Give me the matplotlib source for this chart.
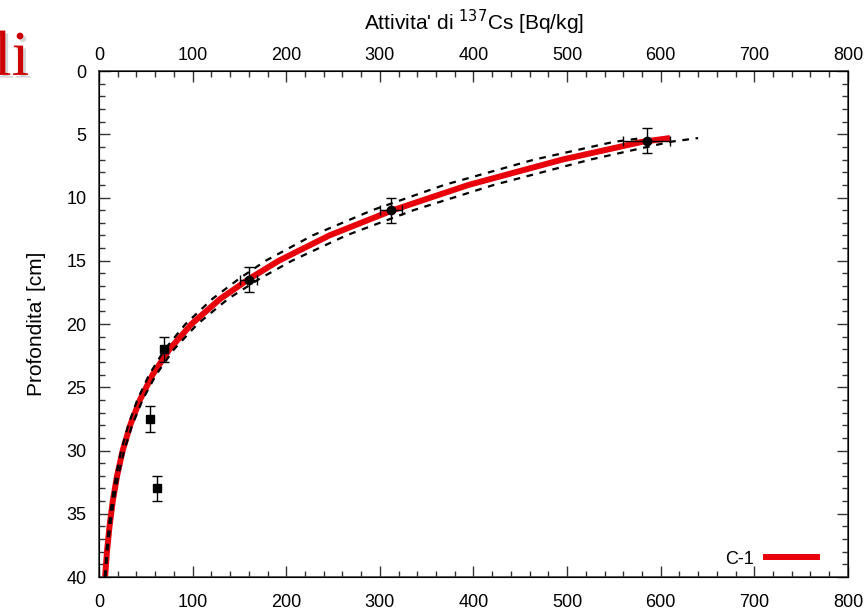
import matplotlib
matplotlib.use("Agg")
import matplotlib.pyplot as plt
import matplotlib.patheffects as pe
from matplotlib.ticker import MultipleLocator

plt.rcParams['font.family'] = ['Liberation Sans', 'DejaVu Sans']

# measured points: activity [Bq/kg] vs depth [cm]
circ_x = [585, 312, 160]
circ_y = [5.5, 11.0, 16.5]
circ_xerr = [25, 12, 9]
circ_yerr = [1.0, 1.0, 1.0]

sq_x = [69, 55, 62]
sq_y = [22.0, 27.5, 33.0]
sq_yerr = [1.0, 1.0, 1.0]

# fit curve C-1 and its band
fit_d = [40, 38, 36, 34, 32, 30, 28, 26, 24, 22, 20, 18, 16.4, 15, 13, 11, 9, 7, 5.6, 5.3]
fit_a = [6.5, 8.5, 11.2, 14.7, 19.3, 25.3, 33.3, 43.7, 57.3, 75.2, 98.8, 129.7,
         161, 192, 246, 314, 395, 495, 580, 610]
band_lo = [6.2, 8.0, 10.5, 13.8, 18.1, 23.7, 31.2, 40.9, 53.6, 70.3, 92.4, 121.3,
           150, 178, 228, 292, 369, 465, 550, 580]
band_hi = [6.8, 9.0, 11.9, 15.6, 20.5, 26.9, 35.4, 46.5, 61.0, 80.1, 105.2, 138.1,
           172, 206, 264, 336, 422, 525, 610, 640]

fig = plt.figure(figsize=(8.67, 6.09), dpi=100)
ax = fig.add_axes([0.1142, 0.0525, 0.978 - 0.1142, 0.8834 - 0.0525])

ax.plot(fit_a, fit_d, color='#e8000b', lw=4.3, solid_capstyle='butt',
        solid_joinstyle='round', zorder=2, label='C-1')
ax.plot(band_lo, fit_d, color='black', lw=1.6, ls=(0, (3, 3)), zorder=3)
ax.plot(band_hi, fit_d, color='black', lw=1.6, ls=(0, (3, 3)), zorder=3)

ax.errorbar(circ_x, circ_y, xerr=circ_xerr, yerr=circ_yerr, fmt='o', color='black',
            ms=6, elinewidth=1, capsize=3.5, capthick=1, zorder=4)
ax.errorbar(sq_x, sq_y, yerr=sq_yerr, fmt='s', color='black',
            ms=5.5, elinewidth=1, capsize=3.5, capthick=1, zorder=4)

ax.set_xlim(0, 800)
ax.set_ylim(40, 0)
ax.xaxis.set_major_locator(MultipleLocator(100))
ax.xaxis.set_minor_locator(MultipleLocator(20))
ax.yaxis.set_major_locator(MultipleLocator(5))
ax.yaxis.set_minor_locator(MultipleLocator(1))
ax.tick_params(which='both', direction='in', top=True, right=True,
               labelsize=13, color='#333333')
ax.tick_params(which='major', length=8, width=1)
ax.tick_params(which='minor', length=4, width=1)
ax.tick_params(axis='x', pad=12)
ax.tick_params(axis='y', pad=9)
for s in ax.spines.values():
    s.set_color('#333333')
    s.set_linewidth(1.1)

# top axis carries the same scale with its own labels
top = ax.twiny()
top.set_xlim(0, 800)
top.xaxis.set_major_locator(MultipleLocator(100))
top.xaxis.set_minor_locator(MultipleLocator(20))
top.tick_params(which='both', direction='in', labelsize=13, color='#333333', pad=5)
top.tick_params(which='major', length=8, width=1)
top.tick_params(which='minor', length=4, width=1)
top.set_xlabel("Attivita' di $^{137}$Cs [Bq/kg]", fontsize=15, labelpad=12)

ax.set_ylabel("Profondita' [cm]", fontsize=15, labelpad=15)

ax.legend(loc='lower right', bbox_to_anchor=(0.973, 0.004), frameon=False,
          fontsize=13, handlelength=3.2, handletextpad=0.5,
          borderaxespad=0, markerfirst=False)

fig.text(0.034, 0.877, 'li', ha='right', va='baseline', fontsize=46,
         family='Liberation Serif', color='#cc0000',
         path_effects=[pe.withSimplePatchShadow(offset=(2, -2), shadow_rgbFace='#999999', alpha=0.4)])

fig.savefig('out.png', dpi=100)
